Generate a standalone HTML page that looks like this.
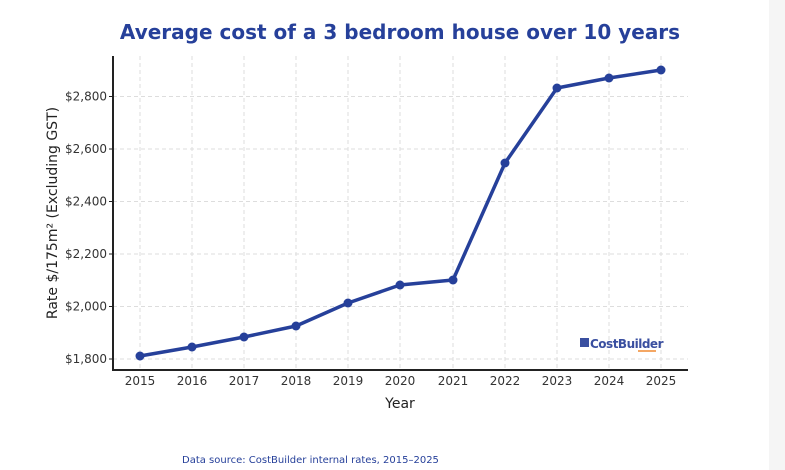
<!DOCTYPE html>
<html><head><style>body{margin:0;background:#fff}svg{display:block}</style></head><body>
<svg width="785" height="470" xmlns="http://www.w3.org/2000/svg" font-family="DejaVu Sans, Liberation Sans, sans-serif">
<rect x="769" y="0" width="16" height="470" fill="#f5f5f5"/>
<text x="400" y="39" text-anchor="middle" font-size="20" font-weight="bold" fill="#26409a">Average cost of a 3 bedroom house over 10 years</text>
<g stroke="#ddd" stroke-dasharray="4,3" stroke-width="1">
<line x1="140" y1="56" x2="140" y2="370"/><line x1="192" y1="56" x2="192" y2="370"/><line x1="244" y1="56" x2="244" y2="370"/><line x1="296" y1="56" x2="296" y2="370"/><line x1="348" y1="56" x2="348" y2="370"/><line x1="400" y1="56" x2="400" y2="370"/><line x1="453" y1="56" x2="453" y2="370"/><line x1="505" y1="56" x2="505" y2="370"/><line x1="557" y1="56" x2="557" y2="370"/><line x1="609" y1="56" x2="609" y2="370"/><line x1="661" y1="56" x2="661" y2="370"/>
<line x1="113" y1="359" x2="688" y2="359"/><line x1="113" y1="306.5" x2="688" y2="306.5"/><line x1="113" y1="254" x2="688" y2="254"/><line x1="113" y1="201.5" x2="688" y2="201.5"/><line x1="113" y1="149" x2="688" y2="149"/><line x1="113" y1="96.5" x2="688" y2="96.5"/>
</g>
<g stroke="#222" stroke-width="2"><line x1="113" y1="56" x2="113" y2="371"/><line x1="112" y1="370" x2="688" y2="370"/></g>
<g stroke="#222" stroke-width="1">
<line x1="109" y1="359" x2="113" y2="359"/><line x1="109" y1="306.5" x2="113" y2="306.5"/><line x1="109" y1="254" x2="113" y2="254"/><line x1="109" y1="201.5" x2="113" y2="201.5"/><line x1="109" y1="149" x2="113" y2="149"/><line x1="109" y1="96.5" x2="113" y2="96.5"/>
</g>
<g font-size="12" fill="#333" text-anchor="end">
<text x="107" y="363">$1,800</text><text x="107" y="310.5">$2,000</text><text x="107" y="258">$2,200</text><text x="107" y="205.5">$2,400</text><text x="107" y="153">$2,600</text><text x="107" y="100.5">$2,800</text>
</g>
<g font-size="12" fill="#333" text-anchor="middle">
<text x="140" y="385">2015</text><text x="192" y="385">2016</text><text x="244" y="385">2017</text><text x="296" y="385">2018</text><text x="348" y="385">2019</text><text x="400" y="385">2020</text><text x="453" y="385">2021</text><text x="505" y="385">2022</text><text x="557" y="385">2023</text><text x="609" y="385">2024</text><text x="661" y="385">2025</text>
</g>
<text x="400" y="408" text-anchor="middle" font-size="14" fill="#222">Year</text>
<text transform="translate(57,213) rotate(-90)" text-anchor="middle" font-size="14" fill="#222">Rate $/175m² (Excluding GST)</text>
<polyline fill="none" stroke="#26409a" stroke-width="3.5" stroke-linejoin="round" points="140,356 192,347 244,337 296,326 348,303 400,285 453,280 505,163 557,88 609,78 661,70"/>
<g fill="#26409a">
<circle cx="140" cy="356" r="4.5"/><circle cx="192" cy="347" r="4.5"/><circle cx="244" cy="337" r="4.5"/><circle cx="296" cy="326" r="4.5"/><circle cx="348" cy="303" r="4.5"/><circle cx="400" cy="285" r="4.5"/><circle cx="453" cy="280" r="4.5"/><circle cx="505" cy="163" r="4.5"/><circle cx="557" cy="88" r="4.5"/><circle cx="609" cy="78" r="4.5"/><circle cx="661" cy="70" r="4.5"/>
</g>
<rect x="580" y="338" width="9" height="9" fill="#3a4fa0"/>
<text x="590" y="348" font-size="12" font-weight="bold" fill="#3a4fa0" letter-spacing="-0.5">CostBuilder</text>
<line x1="638" y1="351" x2="656" y2="351" stroke="#f08a30" stroke-width="1.5"/>
<text x="182" y="463" font-size="10" fill="#26409a">Data source: CostBuilder internal rates, 2015–2025</text>
</svg>
</body></html>
